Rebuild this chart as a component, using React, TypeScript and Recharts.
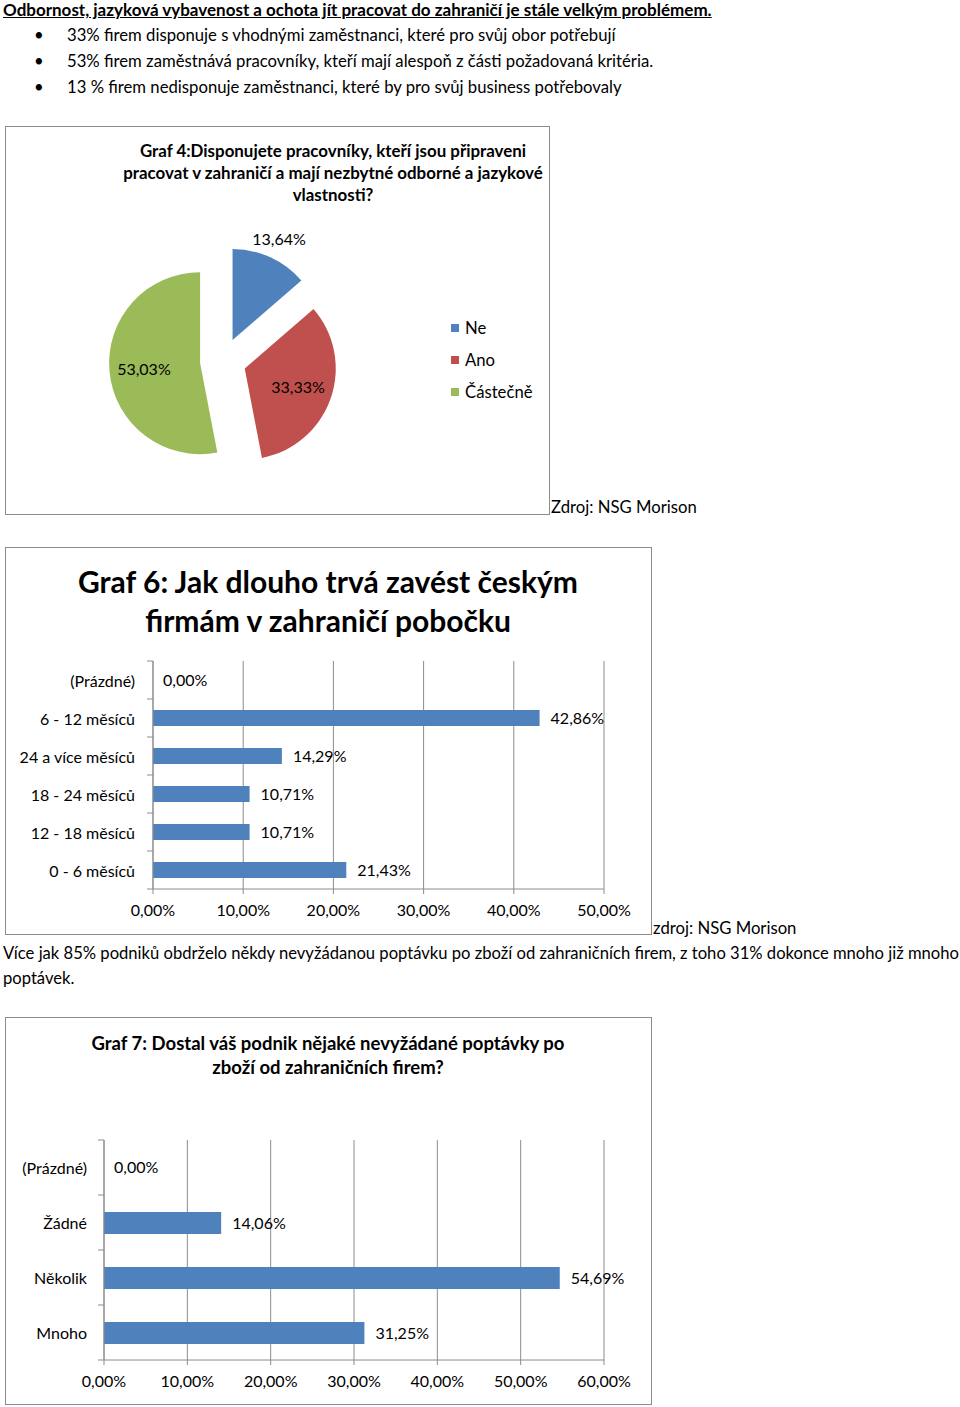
import React from "react"
import {
  PieChart,
  Pie,
  Cell,
  BarChart,
  Bar,
  XAxis,
  YAxis,
  CartesianGrid,
  LabelList,
  ReferenceDot,
} from "recharts"

document.body.style.margin = "0"

const FONT = "Lato, 'Open Sans', sans-serif"
const GRID = "#8c8c8c"
const BLUE = "#4F81BD"

// Graf 4
const pieNames = ["Ne", "Ano", "Částečně"]
const pieValues = [13.64, 33.33, 53.03]
const pieColors = ["#4F81BD", "#C0504D", "#9BBB59"]

// Graf 6
const g6Categories = ["(Prázdné)", "6 - 12 měsíců", "24 a více měsíců", "18 - 24 měsíců", "12 - 18 měsíců", "0 - 6 měsíců"]
const g6Values = [0, 42.86, 14.29, 10.71, 10.71, 21.43]
const g6Ticks = [0, 10, 20, 30, 40, 50]

// Graf 7
const g7Categories = ["(Prázdné)", "Žádné", "Několik", "Mnoho"]
const g7Values = [0, 14.06, 54.69, 31.25]
const g7Ticks = [0, 10, 20, 30, 40, 50, 60]

const bullets = [
  "33% firem disponuje s vhodnými zaměstnanci, které pro svůj obor potřebují",
  "53% firem zaměstnává pracovníky, kteří mají alespoň z části požadovaná kritéria.",
  "13 % firem nedisponuje zaměstnanci, které by pro svůj business potřebovaly",
]

const pct = (v: number) => v.toFixed(2).replace(".", ",") + "%"

interface TProps {
  x: number
  y: number
  size?: number
  bold?: boolean
  underline?: boolean
  center?: boolean
  children: React.ReactNode
}

// text line placed by its vertical centre
function T({ x, y, size = 16.7, bold, underline, center, children }: TProps) {
  const lh = Math.round(size * 1.3)
  return (
    <div
      style={{
        position: "absolute",
        left: x,
        top: y - lh / 2,
        lineHeight: `${lh}px`,
        fontSize: size,
        fontWeight: bold ? 700 : 400,
        textDecoration: underline ? "underline" : "none",
        whiteSpace: "nowrap",
        transform: center ? "translateX(-50%)" : undefined,
        color: "#000",
      }}
    >
      {children}
    </div>
  )
}

function Box({ x, y, w, h }: { x: number; y: number; w: number; h: number }) {
  return (
    <div
      style={{
        position: "absolute",
        left: x,
        top: y,
        width: w,
        height: h,
        boxSizing: "border-box",
        border: `1px solid ${GRID}`,
      }}
    />
  )
}

// y axis label with Excel-style tick marks on the category boundaries
function CatTick(props: any) {
  const { x, y, payload, band, margin, last } = props
  const ax = x + margin
  return (
    <g>
      <text x={x} y={y} textAnchor="end" dominantBaseline="central" fontSize={16} fill="#000" fontFamily={FONT}>
        {payload.value}
      </text>
      <line x1={ax - 6} x2={ax} y1={y - band / 2} y2={y - band / 2} stroke={GRID} />
      {last && <line x1={ax - 6} x2={ax} y1={y + band / 2} y2={y + band / 2} stroke={GRID} />}
    </g>
  )
}

function PieGraph() {
  const total = pieValues.reduce((a, b) => a + b, 0)
  const data = pieNames.map((name, i) => ({ name, value: pieValues[i] }))
  let acc = 0
  const mids = pieValues.map((v) => {
    const m = 90 - ((acc + v / 2) / total) * 360
    acc += v
    return m
  })
  const cx = 218
  const cy = 235
  const explode = 23
  return (
    <PieChart width={544} height={388} margin={{ top: 0, right: 0, bottom: 0, left: 0 }}>
      {mids.map((mid, k) => {
        const rad = (mid * Math.PI) / 180
        return (
          <Pie
            key={k}
            data={data}
            dataKey="value"
            nameKey="name"
            cx={cx + explode * Math.cos(rad)}
            cy={cy - explode * Math.sin(rad)}
            outerRadius={91}
            startAngle={90}
            endAngle={-270}
            stroke="none"
            isAnimationActive={false}
            labelLine={false}
            label={(p: any) => {
              if (p.index !== k) return null
              const r = p.percent < 0.2 ? p.outerRadius * 1.23 : p.outerRadius * 0.62
              const a = (p.midAngle * Math.PI) / 180
              return (
                <text
                  x={p.cx + r * Math.cos(a)}
                  y={p.cy - r * Math.sin(a)}
                  textAnchor="middle"
                  dominantBaseline="central"
                  fontSize={16}
                  fill="#000"
                  fontFamily={FONT}
                >
                  {pct(p.value)}
                </text>
              )
            }}
          >
            {data.map((_, i) => (
              <Cell key={i} fill={i === k ? pieColors[i] : "none"} />
            ))}
          </Pie>
        )
      })}
    </PieChart>
  )
}

interface HBarProps {
  categories: string[]
  values: number[]
  ticks: number[]
  width: number
  height: number
  margin: { top: number; right: number; bottom: number; left: number }
  yWidth: number
  labelGap: number
  barSize: number
}

function HBar({ categories, values, ticks, width, height, margin, yWidth, labelGap, barSize }: HBarProps) {
  const data = categories.map((name, i) => ({ name, value: values[i] }))
  const xHeight = 30
  const plotH = height - margin.top - margin.bottom - xHeight
  const band = plotH / categories.length
  const labelStyle = { fill: "#000", fontSize: 16, fontFamily: FONT }
  return (
    <BarChart width={width} height={height} data={data} layout="vertical" margin={margin}>
      <CartesianGrid horizontal={false} stroke={GRID} />
      <XAxis
        type="number"
        domain={[ticks[0], ticks[ticks.length - 1]]}
        ticks={ticks}
        tickFormatter={pct}
        height={xHeight}
        tickSize={5}
        tickMargin={11}
        stroke={GRID}
        tick={{ fill: "#000", fontSize: 16, fontFamily: FONT }}
      />
      <YAxis
        type="category"
        dataKey="name"
        width={yWidth}
        tickLine={false}
        tickSize={0}
        tickMargin={labelGap}
        stroke={GRID}
        tick={(p: any) => (
          <CatTick {...p} band={band} margin={labelGap} last={p.index === categories.length - 1} />
        )}
      />
      <Bar dataKey="value" fill={BLUE} barSize={barSize} isAnimationActive={false}>
        <LabelList
          dataKey="value"
          position="right"
          offset={11}
          formatter={(v: any) => pct(Number(v))}
          style={labelStyle}
        />
      </Bar>
      {/* zero-length bars get no label from the bar itself */}
      {data
        .filter((d) => d.value === 0)
        .map((d) => (
          <ReferenceDot
            key={d.name}
            x={d.value}
            y={d.name}
            r={0}
            fill="none"
            stroke="none"
            ifOverflow="visible"
            label={{ value: pct(d.value), position: "right", offset: 10, ...labelStyle }}
          />
        ))}
    </BarChart>
  )
}

export default function App() {
  return (
    <div style={{ position: "relative", width: 960, height: 1407, fontFamily: FONT, background: "#fff", overflow: "hidden" }}>
      <T x={3} y={10} size={17} bold underline>
        Odbornost, jazyková vybavenost a ochota jít pracovat do zahraničí je stále velkým problémem.
      </T>
      {bullets.map((b, i) => (
        <React.Fragment key={i}>
          <T x={34} y={35 + i * 26}>•</T>
          <T x={67} y={35 + i * 26}>{b}</T>
        </React.Fragment>
      ))}

      {/* Graf 4 */}
      <Box x={5} y={126} w={545} h={389} />
      <T x={333} y={151} size={16.9} bold center>Graf 4:Disponujete pracovníky, kteří jsou připraveni</T>
      <T x={333} y={173} size={16.9} bold center>pracovat v zahraničí a mají nezbytné odborné a jazykové</T>
      <T x={333} y={195} size={16.9} bold center>vlastnosti?</T>
      <div style={{ position: "absolute", left: 5, top: 126 }}>
        <PieGraph />
      </div>
      {pieNames.map((n, i) => (
        <React.Fragment key={n}>
          <div style={{ position: "absolute", left: 451, top: 324 + i * 32, width: 8, height: 8, background: pieColors[i] }} />
          <T x={465} y={328 + i * 32}>{n}</T>
        </React.Fragment>
      ))}
      <T x={551} y={507}>Zdroj: NSG Morison</T>

      {/* Graf 6 */}
      <Box x={5} y={547} w={647} h={388} />
      <T x={328} y={581} size={30} bold center>Graf 6: Jak dlouho trvá zavést českým</T>
      <T x={328} y={620} size={30} bold center>firmám v zahraničí pobočku</T>
      <div style={{ position: "absolute", left: 0, top: 650 }}>
        <HBar
          categories={g6Categories}
          values={g6Values}
          ticks={g6Ticks}
          width={660}
          height={290}
          margin={{ top: 11, right: 56, bottom: 21, left: 13 }}
          yWidth={140}
          labelGap={18}
          barSize={16}
        />
      </div>
      <T x={653} y={928}>zdroj: NSG Morison</T>

      <T x={3} y={953} size={16.6}>
        Více jak 85% podniků obdrželo někdy nevyžádanou poptávku po zboží od zahraničních firem, z toho 31% dokonce mnoho již mnoho
      </T>
      <T x={3} y={978} size={16.6}>poptávek.</T>

      {/* Graf 7 */}
      <Box x={5} y={1017} w={647} h={388} />
      <T x={328} y={1043} size={18.5} bold center>Graf 7: Dostal váš podnik nějaké nevyžádané poptávky po</T>
      <T x={328} y={1067} size={18.5} bold center>zboží od zahraničních firem?</T>
      <div style={{ position: "absolute", left: 0, top: 1125 }}>
        <HBar
          categories={g7Categories}
          values={g7Values}
          ticks={g7Ticks}
          width={660}
          height={280}
          margin={{ top: 15, right: 56, bottom: 15, left: 14 }}
          yWidth={90}
          labelGap={17}
          barSize={22}
        />
      </div>
    </div>
  )
}
